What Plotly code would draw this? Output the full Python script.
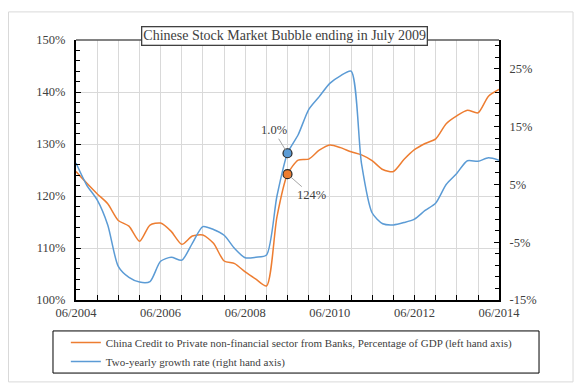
import plotly.graph_objects as go

# quarter-end dates, 06/2004 .. 06/2014
quarters = [f"{y}-{md}" for y in range(2004, 2015) for md in ("03-31", "06-30", "09-30", "12-31")]
quarters = quarters[1:-2]

# China credit to private non-financial sector from banks, % of GDP (left axis)
credit_gdp = [124.7, 122.5, 120.4, 118.5, 115.3, 114.2, 111.3, 114.4, 114.8, 113.2,
              110.7, 112.3, 112.5, 110.9, 107.5, 107.0, 105.4, 104.0, 102.7, 116.0,
              124.2, 126.9, 127.1, 128.8, 129.8, 129.3, 128.5, 127.9, 126.8, 125.1,
              124.7, 127.0, 128.9, 130.1, 131.0, 133.9, 135.4, 136.5, 136.0, 139.2,
              140.5]

# two-yearly growth rate, % (right axis)
growth_2y = [8.7, 4.9, 2.3, -2.0, -9.2, -11.1, -11.9, -11.8, -8.3, -7.6,
             -8.1, -5.2, -2.3, -2.8, -3.8, -6.1, -7.7, -7.6, -7.2, 3.0,
             10.4, 13.6, 18.0, 20.2, 22.5, 23.8, 24.6, 8.6, 0.1, -1.8,
             -2.0, -1.6, -1.0, 0.5, 1.8, 5.0, 6.9, 9.1, 9.0, 9.6,
             9.2]

peak_date = "2009-06-30"
peak_idx = quarters.index(peak_date)
blue_label = "1.0%"
orange_label = "124%"

x_ticks = ["2004-06-30", "2006-06-30", "2008-06-30", "2010-06-30", "2012-06-30", "2014-06-30"]
x_ticktext = ["06/2004", "06/2006", "06/2008", "06/2010", "06/2012", "06/2014"]
x_minor = [f"{y}-{md}" for y in range(2004, 2015) for md in ("06-30", "12-31")]

ORANGE = "#ED7D31"
BLUE = "#5B9BD5"
TXT = "#404040"
GRID = "#D9D9D9"
FONT = "Liberation Serif"

fig = go.Figure()
fig.add_trace(go.Scatter(
    x=quarters, y=credit_gdp, mode="lines",
    line=dict(color=ORANGE, width=1.5, shape="spline", smoothing=0.7),
    name="China Credit to Private non-financial sector from Banks, Percentage of GDP (left hand axis)",
))
fig.add_trace(go.Scatter(
    x=quarters, y=growth_2y, mode="lines", yaxis="y2",
    line=dict(color=BLUE, width=1.5, shape="spline", smoothing=0.7),
    name="Two-yearly growth rate (right hand axis)",
))
# highlighted points
fig.add_trace(go.Scatter(
    x=[peak_date], y=[growth_2y[peak_idx]], mode="markers", yaxis="y2", showlegend=False,
    marker=dict(color=BLUE, size=9, line=dict(color="#262626", width=1.2)),
))
fig.add_trace(go.Scatter(
    x=[peak_date], y=[credit_gdp[peak_idx]], mode="markers", showlegend=False,
    marker=dict(color=ORANGE, size=9, line=dict(color="#262626", width=1.2)),
))

fig.add_annotation(x=peak_date, y=growth_2y[peak_idx], yref="y2", text=blue_label,
                   showarrow=True, arrowhead=0, arrowcolor="#A6A6A6", arrowwidth=1,
                   ax=-14, ay=-23, standoff=4, font=dict(family=FONT, size=12.5, color=TXT))
fig.add_annotation(x=peak_date, y=credit_gdp[peak_idx], yref="y", text=orange_label,
                   showarrow=True, arrowhead=0, arrowcolor="#A6A6A6", arrowwidth=1,
                   ax=24, ay=21, standoff=4, font=dict(family=FONT, size=12.5, color=TXT))

# title in a box
fig.add_annotation(xref="paper", yref="paper", x=0.494, y=1.015, xanchor="center", yanchor="middle",
                   text="Chinese Stock Market Bubble ending in July 2009", showarrow=False,
                   font=dict(family=FONT, size=14, color=TXT),
                   bgcolor="white", bordercolor=TXT, borderwidth=1.3, borderpad=1)

# page body has an 8px margin, so the figure is 8px smaller and shifted
fig.update_layout(
    width=575, height=384,
    margin=dict(l=68, r=84, t=32, b=92),
    paper_bgcolor="white", plot_bgcolor="white",
    font=dict(family=FONT, size=12.5, color=TXT),
    showlegend=True,
    legend=dict(x=-0.024, y=-0.108, xanchor="left", yanchor="top",
                font=dict(family=FONT, size=11, color=TXT),
                bgcolor="rgba(0,0,0,0)", borderwidth=0),
    xaxis=dict(
        type="date", range=["2004-06-30", "2014-06-30"],
        tickmode="array", tickvals=x_ticks, ticktext=x_ticktext,
        ticks="inside", ticklen=5, tickcolor="black",
        showline=True, linecolor="black", linewidth=2,
        showgrid=True, gridcolor=GRID, gridwidth=1,
        minor=dict(tickmode="array", tickvals=x_minor, ticks="inside", ticklen=5,
                   tickcolor="black", showgrid=True, gridcolor=GRID, gridwidth=1),
        zeroline=False,
    ),
    yaxis=dict(
        range=[100, 150], tickmode="linear", tick0=100, dtick=10, ticksuffix="%",
        ticks="inside", ticklen=5, tickcolor="black",
        showline=True, linecolor="black", linewidth=2,
        showgrid=True, gridcolor=GRID, gridwidth=1,
        minor=dict(dtick=2, tick0=100, ticks="inside", ticklen=4, tickcolor="black", showgrid=False),
        zeroline=False, ticklabelstandoff=6,
    ),
    yaxis2=dict(
        range=[-15, 30], overlaying="y", side="right",
        tickmode="array", tickvals=[-15, -5, 5, 15, 25], ticktext=["-15%", "-5%", "5%", "15%", "25%"],
        ticks="inside", ticklen=5, tickcolor="black",
        showline=True, linecolor="black", linewidth=2,
        showgrid=False,
        minor=dict(tickmode="linear", tick0=-15, dtick=2, ticks="inside", ticklen=4, tickcolor="black"),
        zeroline=False, ticklabelstandoff=6,
    ),
    shapes=[
        # top border of plot area
        dict(type="line", xref="paper", yref="paper", x0=0, x1=1, y0=1, y1=1,
             line=dict(color="#595959", width=1.5), layer="above"),
        # legend box
        dict(type="rect", xref="paper", yref="paper", x0=-0.0544, x1=1.0946, y0=-0.281, y1=-0.119,
             line=dict(color="black", width=1)),
        # outer chart frame
        dict(type="rect", xref="paper", yref="paper", x0=-0.1596, x1=1.175, y0=-0.315, y1=1.108,
             line=dict(color=GRID, width=1)),
    ],
)

fig.write_html("out.html")
